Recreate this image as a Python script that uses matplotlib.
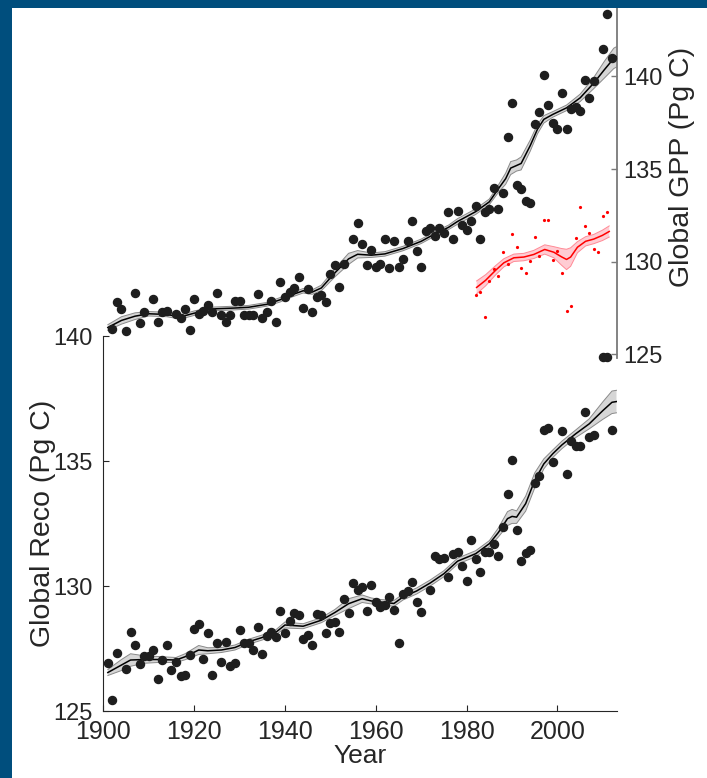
import matplotlib
matplotlib.use("Agg")
import matplotlib.pyplot as plt
import matplotlib.patches as mpatches

plt.rcParams["font.family"] = ["Liberation Sans", "DejaVu Sans"]

BORDER = "#004e7d"
TEXT = "#262626"
DOT = "#1e1e1e"
BAND = "#d6d6d6"
BAND_EDGE = "#8a8a8a"
RED = "#ff0000"

# Global GPP, annual values (top panel, right axis)
gpp_years = [1902, 1903, 1904, 1905, 1907, 1908, 1909, 1911, 1912, 1913, 1914, 1916,
             1917, 1918, 1919, 1920, 1921, 1922, 1923, 1924, 1925, 1926, 1927, 1928,
             1929, 1930, 1931, 1932, 1933, 1934, 1935, 1936, 1937, 1938, 1939, 1940,
             1941, 1942, 1943, 1944, 1945, 1946, 1947, 1948, 1949, 1950, 1951, 1952,
             1953, 1955, 1956, 1957, 1958, 1959, 1960, 1961, 1962, 1963, 1964, 1965,
             1966, 1967, 1968, 1969, 1970, 1971, 1972, 1973, 1974, 1975, 1976, 1977,
             1978, 1979, 1980, 1981, 1982, 1983, 1984, 1985, 1986, 1987, 1988, 1989,
             1990, 1991, 1992, 1993, 1994, 1995, 1996, 1997, 1998, 1999, 2000, 2001,
             2002, 2003, 2004, 2005, 2006, 2007, 2008, 2010, 2011, 2012]
gpp_values = [126.35, 127.81, 127.42, 126.24, 128.31, 126.69, 127.31, 127.97, 126.72,
              127.29, 127.36, 127.19, 126.95, 127.43, 126.31, 127.99, 127.19, 127.36,
              127.67, 127.31, 128.31, 127.11, 126.72, 127.11, 127.90, 127.90, 127.11,
              127.11, 127.11, 128.23, 126.95, 127.27, 127.86, 126.72, 128.93, 128.07,
              128.34, 128.58, 129.18, 127.52, 128.52, 127.26, 128.11, 128.22, 127.83,
              129.34, 129.80, 128.61, 129.86, 131.22, 132.11, 130.96, 129.80, 130.63,
              129.71, 129.89, 131.24, 129.64, 131.10, 129.73, 130.12, 131.10, 132.18,
              130.60, 129.73, 131.63, 131.81, 131.37, 131.81, 131.54, 132.70, 131.22,
              132.75, 131.99, 131.70, 132.17, 133.02, 131.24, 132.66, 132.84, 133.98,
              132.82, 133.71, 136.72, 138.55, 134.12, 133.94, 133.30, 133.14, 137.43,
              138.07, 140.05, 138.46, 137.50, 137.18, 139.10, 137.18, 138.25, 138.36,
              138.14, 139.81, 138.85, 139.76, 141.47, 143.37, 140.97]
gpp_low_years = [2010, 2011]
gpp_low_values = [124.84, 124.84]

# smoothed GPP and its uncertainty half-width
gpp_fit_years = [1901, 1904, 1907, 1910, 1914, 1917, 1920, 1924, 1929, 1932, 1936, 1939,
                 1940, 1944, 1946, 1948, 1951, 1954, 1956, 1959, 1962, 1966, 1970, 1973,
                 1976, 1978, 1982, 1985, 1987, 1988.6, 1989.7, 1991, 1992, 1994, 1995.6,
                 1997, 1999, 2002, 2005, 2008, 2010.3, 2012.4, 2013]
gpp_fit = [126.45, 126.83, 127.06, 127.19, 127.15, 127.02, 127.22, 127.45, 127.50,
           127.54, 127.70, 127.95, 128.08, 128.43, 128.36, 128.58, 129.40, 130.15,
           130.40, 130.35, 130.42, 130.71, 131.10, 131.50, 131.85, 132.17, 132.70,
           133.23, 133.94, 134.48, 135.05, 135.19, 135.30, 136.26, 137.15, 137.68,
           137.95, 138.30, 138.84, 139.64, 140.35, 140.97, 141.05]
gpp_fit_err = [0.15, 0.2, 0.18, 0.12, 0.12, 0.12, 0.12, 0.1, 0.1, 0.1, 0.1, 0.12,
               0.12, 0.12, 0.12, 0.15, 0.22, 0.3, 0.2, 0.12, 0.12, 0.12, 0.12, 0.12,
               0.12, 0.15, 0.15, 0.15, 0.2, 0.3, 0.35, 0.3, 0.35, 0.3, 0.25, 0.2,
               0.15, 0.15, 0.2, 0.3, 0.45, 0.55, 0.55]

# second GPP estimate, 1982 onwards (red)
red_years = [1982, 1983, 1984, 1985, 1986, 1987, 1988, 1989, 1990, 1991, 1992, 1993,
             1994, 1995, 1996, 1997, 1998, 1999, 2000, 2001, 2002, 2003, 2004, 2005,
             2006, 2007, 2008, 2009, 2010, 2011]
red_values = [128.20, 128.36, 127.01, 128.96, 129.59, 129.22, 130.50, 129.89, 131.49,
              130.80, 129.66, 129.38, 130.03, 131.31, 130.32, 132.24, 132.24, 130.07,
              130.57, 129.41, 127.33, 127.59, 131.28, 132.97, 131.92, 131.56, 130.67,
              130.51, 132.47, 132.68]
red_fit_years = [1982.2, 1984.2, 1986.4, 1988.2, 1990.4, 1992.6, 1994.8, 1997.2, 1999.2,
                 2000.9, 2002, 2002.9, 2004.4, 2006.2, 2008, 2009.9, 2011.4]
red_fit = [128.61, 129.00, 129.54, 129.94, 130.21, 130.25, 130.39, 130.66, 130.51,
           130.26, 130.12, 130.25, 130.78, 131.10, 131.22, 131.42, 131.63]
red_fit_err = [0.35, 0.3, 0.25, 0.22, 0.2, 0.2, 0.22, 0.25, 0.3, 0.45, 0.55, 0.5,
               0.3, 0.25, 0.25, 0.28, 0.3]

# Global Reco, annual values (bottom panel, left axis)
reco_years = [1901, 1902, 1903, 1905, 1906, 1907, 1908, 1909, 1910, 1911, 1912, 1913,
              1914, 1915, 1916, 1917, 1918, 1919, 1920, 1921, 1922, 1923, 1924, 1925,
              1926, 1927, 1928, 1929, 1930, 1931, 1932, 1933, 1934, 1935, 1936, 1937,
              1938, 1939, 1940, 1941, 1942, 1943, 1944, 1945, 1946, 1947, 1948, 1949,
              1950, 1951, 1952, 1953, 1954, 1955, 1956, 1957, 1958, 1959, 1960, 1961,
              1962, 1963, 1964, 1965, 1966, 1967, 1968, 1969, 1970, 1972, 1973, 1974,
              1975, 1976, 1977, 1978, 1979, 1980, 1981, 1982, 1983, 1984, 1985, 1986,
              1987, 1988, 1989, 1990, 1991, 1992, 1993, 1994, 1995, 1996, 1997, 1998,
              1999, 2001, 2002, 2003, 2004, 2005, 2006, 2007, 2008, 2012]
reco_values = [126.94, 125.45, 127.35, 126.71, 128.18, 127.63, 126.89, 127.21, 127.20,
               127.47, 126.29, 127.05, 127.64, 126.65, 126.98, 126.40, 126.45, 127.25,
               128.28, 128.48, 127.10, 128.12, 126.45, 127.71, 126.98, 127.78, 126.81,
               126.94, 128.24, 127.74, 127.71, 127.47, 128.36, 127.29, 128.00, 128.18,
               127.98, 129.01, 128.11, 128.61, 128.91, 128.84, 127.88, 128.04, 127.66,
               128.88, 128.84, 128.11, 128.53, 128.56, 128.16, 129.48, 128.93, 130.11,
               129.84, 129.95, 129.01, 130.03, 129.37, 129.15, 129.23, 129.57, 129.04,
               127.71, 129.68, 129.81, 130.15, 129.37, 128.95, 129.84, 131.21, 131.09,
               131.14, 130.37, 131.27, 131.38, 130.80, 130.20, 131.86, 131.10, 130.56,
               131.35, 131.37, 131.70, 131.19, 132.36, 133.70, 135.06, 132.26, 131.01,
               131.34, 131.43, 134.12, 134.39, 136.25, 136.31, 134.96, 136.19, 134.47,
               135.82, 135.59, 135.59, 136.97, 135.95, 136.05, 136.25]
reco_fit_years = [1901, 1904, 1906, 1909, 1912, 1916, 1918, 1921, 1923, 1926, 1929, 1932,
                  1935, 1938, 1940, 1944, 1948, 1951, 1954, 1957, 1959, 1961, 1964, 1966,
                  1969, 1972, 1975, 1978, 1982, 1985, 1987, 1989, 1990, 1991, 1993, 1995,
                  1997, 1999, 2001, 2004, 2007, 2010, 2012, 2013]
reco_fit = [126.55, 126.85, 127.05, 127.07, 127.07, 127.05, 127.18, 127.45, 127.42,
            127.45, 127.55, 127.78, 127.95, 128.16, 128.45, 128.40, 128.64, 128.95,
            129.30, 129.50, 129.41, 129.37, 129.31, 129.57, 129.81, 130.13, 130.50,
            131.00, 131.30, 131.70, 132.15, 132.70, 132.79, 132.76, 133.30, 134.23,
            134.89, 135.30, 135.65, 136.09, 136.49, 137.02, 137.35, 137.38]
reco_fit_err = [0.12, 0.22, 0.25, 0.15, 0.12, 0.1, 0.12, 0.18, 0.12, 0.1, 0.1, 0.1,
                0.1, 0.1, 0.12, 0.1, 0.1, 0.12, 0.2, 0.15, 0.12, 0.1, 0.12, 0.12,
                0.12, 0.12, 0.12, 0.12, 0.12, 0.12, 0.18, 0.28, 0.28, 0.25, 0.3, 0.3,
                0.2, 0.15, 0.15, 0.15, 0.2, 0.35, 0.45, 0.45]


def draw_fit(ax, years, fit, err, line_color, fill_color, edge_color, fill_alpha=1.0):
    lo = [f - e for f, e in zip(fit, err)]
    hi = [f + e for f, e in zip(fit, err)]
    ax.fill_between(years, lo, hi, facecolor=fill_color, edgecolor="none",
                    alpha=fill_alpha, zorder=2)
    ax.plot(years, lo, color=edge_color, lw=0.7, zorder=2.2)
    ax.plot(years, hi, color=edge_color, lw=0.7, zorder=2.2)
    ax.plot(years, fit, color=line_color, lw=1.1, zorder=3)


W_PX, H_PX = 707, 778
fig = plt.figure(figsize=(W_PX / 100, H_PX / 100), dpi=100)
fig.patch.set_facecolor("white")

left = 103.3 / W_PX
width = (616.5 - 103.3) / W_PX
ax_r = fig.add_axes([left, 1 - 711.3 / H_PX, width, (711.3 - 336.0) / H_PX])
ax_g = fig.add_axes([left, 1 - 358.3 / H_PX, width, 358.3 / H_PX])
ax_g.patch.set_visible(False)

# ---- bottom panel: Reco ----
draw_fit(ax_r, reco_fit_years, reco_fit, reco_fit_err, "black", BAND, BAND_EDGE)
ax_r.plot(reco_years, reco_values, "o", color=DOT, ms=5.8, mec=DOT, zorder=4)
ax_r.set_xlim(1900, 2013)
ax_r.set_ylim(125, 140)
ax_r.set_xticks([1900, 1920, 1940, 1960, 1980, 2000])
ax_r.set_yticks([125, 130, 135, 140])
for side in ("top", "right"):
    ax_r.spines[side].set_visible(False)
for side in ("left", "bottom"):
    ax_r.spines[side].set_color(TEXT)
    ax_r.spines[side].set_linewidth(0.8)
ax_r.tick_params(direction="in", length=4, width=0.8, color=TEXT,
                 labelcolor=TEXT, labelsize=17)
ax_r.tick_params(axis="y", pad=7.5)
ax_r.tick_params(axis="x", pad=6, labelsize=18)
ax_r.set_ylabel("Global Reco (Pg C)", fontsize=20.5, color=TEXT)
ax_r.yaxis.set_label_coords(-0.093, 0.5)
ax_r.set_xlabel("Year", fontsize=19, color=TEXT)
ax_r.xaxis.set_label_coords(0.5, -0.088)

# ---- top panel: GPP ----
draw_fit(ax_g, gpp_fit_years, gpp_fit, gpp_fit_err, "black", BAND, BAND_EDGE)
draw_fit(ax_g, red_fit_years, red_fit, red_fit_err, RED, "#ff9aa8", "#ff8a96",
         fill_alpha=0.5)
ax_g.plot(gpp_years, gpp_values, "o", color=DOT, ms=5.8, mec=DOT, zorder=4)
ax_g.plot(gpp_low_years, gpp_low_values, "o", color=DOT, ms=5.8, mec=DOT,
          zorder=4, clip_on=False)
ax_g.plot(red_years, red_values, "o", color=RED, ms=2.3, mec="none", zorder=4)
ax_g.set_xlim(1900, 2013)
ax_g.set_ylim(125 - 4.0 / 18.74, 125 + 358.3 / 18.74)
ax_g.set_xticks([])
ax_g.set_yticks([125, 130, 135, 140])
ax_g.yaxis.tick_right()
ax_g.yaxis.set_label_position("right")
for side in ("top", "left", "bottom"):
    ax_g.spines[side].set_visible(False)
ax_g.spines["right"].set_color("#7a7a7a")
ax_g.spines["right"].set_linewidth(1.3)
ax_g.tick_params(axis="y", direction="in", length=4, width=1.0, color="#7a7a7a",
                 labelcolor=TEXT, labelsize=17, pad=5)
ax_g.set_ylabel("Global GPP (Pg C)", fontsize=20.5, color=TEXT)
ax_g.yaxis.set_label_coords(1.103, 0.535)

# dark frame along the left and top edges
fig.add_artist(mpatches.Rectangle((0, 0), 12 / W_PX, 1, transform=fig.transFigure,
                                  facecolor=BORDER, edgecolor="none", zorder=20))
fig.add_artist(mpatches.Rectangle((0, 1 - 7.5 / H_PX), 1, 7.5 / H_PX,
                                  transform=fig.transFigure, facecolor=BORDER,
                                  edgecolor="none", zorder=20))

fig.savefig("out.png", dpi=100, facecolor="white")
